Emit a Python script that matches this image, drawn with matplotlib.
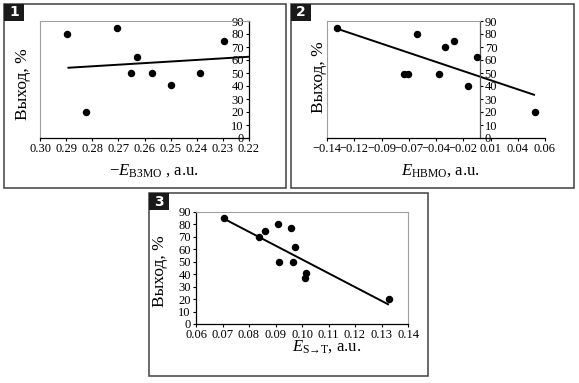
import matplotlib.pyplot as plt
from matplotlib.patches import Rectangle

plt.rcParams['font.family'] = ['Liberation Serif', 'DejaVu Serif']
plt.rcParams['mathtext.fontset'] = 'custom'
plt.rcParams['mathtext.rm'] = 'Liberation Serif'
plt.rcParams['mathtext.it'] = 'Liberation Serif:italic'
plt.rcParams['mathtext.bf'] = 'Liberation Serif:bold'

# panel 1: -E(LUMO) vs yield
x1 = [0.2895, 0.2824, 0.2704, 0.2651, 0.2628, 0.2570, 0.2497, 0.2387, 0.2295]
y1 = [80, 20, 85, 50, 62, 50, 41, 50, 75]
fit1_x = [0.2895, 0.22]
fit1_y = [54, 62.5]
xticks1 = [0.30, 0.29, 0.28, 0.27, 0.26, 0.25, 0.24, 0.23, 0.22]
xlabels1 = ['0.30', '0.29', '0.28', '0.27', '0.26', '0.25', '0.24', '0.23', '0.22']

# panel 2: E(HOMO) vs yield
x2 = [-0.1305, -0.0698, -0.0658, -0.0572, -0.0374, -0.0322, -0.0237, -0.0108, -0.0026, 0.0508]
y2 = [85, 49, 49, 80, 49, 70, 75, 40, 62, 20]
fit2_x = [-0.1305, 0.0508]
fit2_y = [84, 33]
xticks2 = [-0.14, -0.115, -0.09, -0.065, -0.04, -0.015, 0.01, 0.035, 0.06]
xlabels2 = ['\u22120.14', '\u22120.12', '\u22120.09', '\u22120.07', '\u22120.04',
            '\u22120.02', '0.01', '0.04', '0.06']

# panel 3: E(S->T) vs yield
x3 = [0.0707, 0.0836, 0.0861, 0.0911, 0.0915, 0.0958, 0.0965, 0.0973, 0.1016, 0.1013, 0.1328]
y3 = [85, 70, 75, 80, 50, 77, 50, 62, 41, 37, 20]
fit3_x = [0.0707, 0.1328]
fit3_y = [84.4, 15.5]
xticks3 = [0.06, 0.07, 0.08, 0.09, 0.10, 0.11, 0.12, 0.13, 0.14]
xlabels3 = ['0.06', '0.07', '0.08', '0.09', '0.10', '0.11', '0.12', '0.13', '0.14']

yticks = [0, 10, 20, 30, 40, 50, 60, 70, 80, 90]

W, H = 579, 383
GRAY = '#a0a0a0'
fig = plt.figure(figsize=(W / 100, H / 100), dpi=100)


def px_rect(x0, y0, x1, y1):
    """pixel box (top-left origin) -> figure fraction [l, b, w, h]"""
    return [x0 / W, 1 - y1 / H, (x1 - x0) / W, (y1 - y0) / H]


def style(ax, xt, xl):
    ax.set_ylim(0, 90)
    ax.set_xticks(xt)
    ax.set_xticklabels(xl)
    ax.set_yticks(yticks)
    ax.tick_params(labelsize=9, length=2.5, width=0.8, pad=1.2, direction='out')
    ax.spines['bottom'].set_linewidth(0.9)


def draw(ax, x, y, fx, fy):
    ax.scatter(x, y, s=19, color='k', zorder=3, clip_on=False)
    ax.plot(fx, fy, color='k', lw=1.4, solid_capstyle='butt', clip_on=False)


# --- panel 1 ---
ax1 = fig.add_axes(px_rect(40, 21, 249, 138))
draw(ax1, x1, y1, fit1_x, fit1_y)
ax1.set_xlim(0.30, 0.22)
style(ax1, xticks1, xlabels1)
ax1.spines['left'].set_position(('data', 0.22))
ax1.spines['left'].set_linewidth(0.9)
ax1.spines['right'].set_visible(False)
ax1.spines['top'].set_color(GRAY)
ax1.spines['top'].set_linewidth(0.8)
ax1.axvline(0.30, color=GRAY, lw=0.8, clip_on=False)

# --- panel 2 ---
ax2 = fig.add_axes(px_rect(327, 21, 545, 138))
draw(ax2, x2, y2, fit2_x, fit2_y)
ax2.set_xlim(-0.14, 0.06)
style(ax2, xticks2, xlabels2)
ax2.yaxis.tick_right()
ax2.spines['right'].set_position(('data', 0))
ax2.spines['right'].set_color('#555555')
ax2.spines['right'].set_linewidth(0.9)
ax2.spines['left'].set_color(GRAY)
ax2.spines['left'].set_linewidth(0.8)
ax2.spines['top'].set_color(GRAY)
ax2.spines['top'].set_linewidth(0.8)
ax2.spines['top'].set_bounds(-0.14, 0)

# --- panel 3 ---
ax3 = fig.add_axes(px_rect(196, 212, 408, 324))
draw(ax3, x3, y3, fit3_x, fit3_y)
ax3.set_xlim(0.06, 0.14)
style(ax3, xticks3, xlabels3)
ax3.spines['left'].set_linewidth(0.9)
for s in ['top', 'right']:
    ax3.spines[s].set_color(GRAY)
    ax3.spines[s].set_linewidth(0.8)

# axis labels
ylab = 'Выход, %'
fig.text(23 / W, 1 - 84 / H, ylab, rotation=90, ha='center', va='center', fontsize=12.5)
fig.text(319 / W, 1 - 77 / H, ylab, rotation=90, ha='center', va='center', fontsize=12.5)
fig.text(160 / W, 1 - 271 / H, ylab, rotation=90, ha='center', va='center', fontsize=12.5)

fig.text(154 / W, 1 - 175 / H, r'$-E_{\mathrm{ВЗМО}}$ , a.u.', ha='center', va='baseline', fontsize=12)
fig.text(440 / W, 1 - 175 / H, r'$E_{\mathrm{НВМО}}$, a.u.', ha='center', va='baseline', fontsize=12)
fig.text(327 / W, 1 - 351 / H, r'$E_{\mathrm{S→T}}$, a.u.', ha='center',
         va='baseline', fontsize=12)

# panel frames and number badges
frames = [(4, 4, 286, 188), (291, 4, 574, 188), (149, 193, 428, 376)]
badges = ['1', '2', '3']
for (bx0, by0, bx1, by1), num in zip(frames, badges):
    l, b, w, h = px_rect(bx0, by0, bx1, by1)
    fig.patches.append(Rectangle((l, b), w, h, transform=fig.transFigure,
                                 fill=False, ec='#404040', lw=1.1))
    l, b, w, h = px_rect(bx0, by0, bx0 + 20, by0 + 17)
    fig.patches.append(Rectangle((l, b), w, h, transform=fig.transFigure,
                                 fc='#1a1a1a', ec='#1a1a1a', lw=0))
    fig.text(l + w / 2, b + h / 2, num, color='white', fontsize=10, fontweight='bold',
             family='DejaVu Sans', ha='center', va='center')

fig.savefig('out.png', dpi=100)
